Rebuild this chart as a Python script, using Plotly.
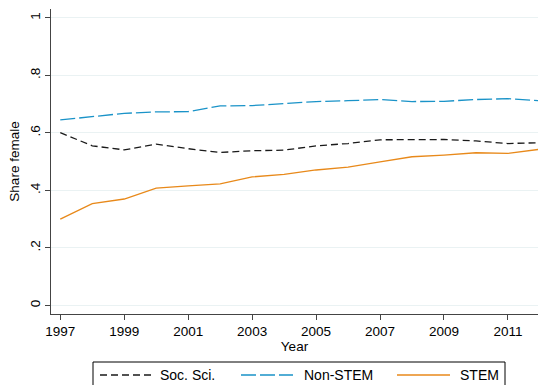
import plotly.graph_objects as go

years = list(range(1997, 2013))
soc_sci = [0.601, 0.555, 0.541, 0.561, 0.545, 0.532, 0.538, 0.540, 0.555, 0.563,
           0.576, 0.576, 0.577, 0.572, 0.563, 0.566]
non_stem = [0.645, 0.657, 0.668, 0.673, 0.674, 0.694, 0.695, 0.702, 0.709, 0.712,
            0.716, 0.709, 0.710, 0.716, 0.719, 0.712]
stem = [0.300, 0.354, 0.370, 0.408, 0.416, 0.423, 0.447, 0.456, 0.471, 0.481,
        0.499, 0.517, 0.523, 0.531, 0.529, 0.543]

x_ticks = list(range(1997, 2012, 2))
y_ticks = [0, 0.2, 0.4, 0.6, 0.8, 1]
y_tick_text = ["0", ".2", ".4", ".6", ".8", "1"]

series = [
    ("Soc. Sci.", soc_sci, "#1a1a1a", "7px,4px"),
    ("Non-STEM", non_stem, "#1a93c8", "15px,4px"),
    ("STEM", stem, "#e8891a", "solid"),
]

FONT = "Liberation Sans, Arial, sans-serif"

fig = go.Figure()
for name, vals, color, dash in series:
    fig.add_trace(go.Scatter(
        x=years, y=vals, mode="lines", name=name, showlegend=False,
        line=dict(color=color, width=1.3, dash=dash),
    ))

# plot area in pixels: left 51, right 538, top 9, bottom 314
L, R, T, B = 51, 538, 9, 314


def px_x(p):
    return (p - L) / (R - L)


def px_y(p):
    return (B - p) / (B - T)


shapes = []
annotations = []

# legend frame with line samples and labels
shapes.append(dict(type="rect", xref="paper", yref="paper",
                   x0=px_x(93), x1=px_x(505), y0=px_y(400), y1=px_y(362),
                   line=dict(color="#000000", width=1), fillcolor="white", layer="above"))
legend_items = [(100, 152, 158), (241, 293, 302), (397, 450, 458)]
for (x0, x1, tx), (name, _, color, dash) in zip(legend_items, series):
    shapes.append(dict(type="line", xref="paper", yref="paper",
                       x0=px_x(x0), x1=px_x(x1), y0=px_y(375), y1=px_y(375),
                       line=dict(color=color, width=1.3, dash=dash)))
    annotations.append(dict(text=name, xref="paper", yref="paper",
                            x=px_x(tx), y=px_y(375), xanchor="left", yanchor="middle",
                            showarrow=False, font=dict(family=FONT, size=14, color="#000")))

fig.update_layout(
    width=538, height=385,
    margin=dict(l=L, r=538 - R, t=T, b=385 - B),
    plot_bgcolor="white", paper_bgcolor="white",
    font=dict(family=FONT, size=13.5, color="#000"),
    shapes=shapes, annotations=annotations,
    xaxis=dict(
        range=[1996.71, 2011.94], tickvals=x_ticks, ticks="outside", ticklen=5,
        tickcolor="#444", showline=True, linecolor="#444", linewidth=1,
        showgrid=False, zeroline=False,
        title=dict(text="Year", standoff=0, font=dict(size=13.5)),
        tickfont=dict(size=13.5),
    ),
    yaxis=dict(
        range=[-0.03, 1.031], tickvals=y_ticks, ticktext=y_tick_text, tickangle=-90,
        ticks="outside", ticklen=5, tickcolor="#444", showline=True, linecolor="#444",
        linewidth=1, showgrid=True, gridcolor="#eaf2f3", gridwidth=1, zeroline=False,
        title=dict(text="Share female", standoff=4, font=dict(size=13.5)),
        tickfont=dict(size=13.5),
    ),
)

fig.write_html("out.html")
